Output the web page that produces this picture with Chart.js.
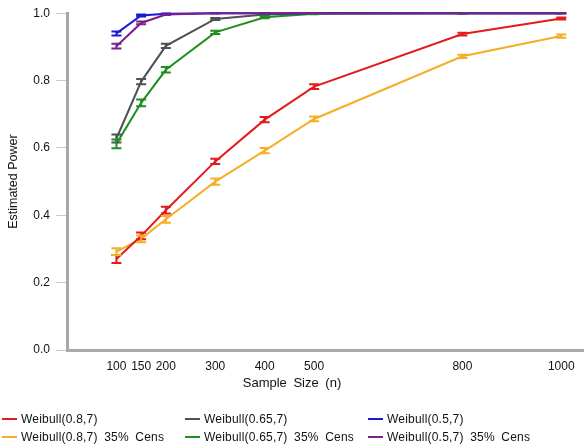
<!DOCTYPE html>
<html>
<head>
<meta charset="utf-8">
<script src="https://cdn.jsdelivr.net/npm/chart.js@4/dist/chart.umd.min.js"></script>
<style>
  body { margin: 0; background: #fff; font-family: "Liberation Sans", Arial, sans-serif; }
  #wrap { position: relative; width: 584px; height: 448px; }
  #xtitle { position: absolute; top: 375px; left: 0; width: 584px; text-align: center;
            font-size: 13px; color: #111; word-spacing: 3px; }
  #legend { position: absolute; top: 411px; left: 2px; width: 582px;
            display: grid; grid-template-columns: 183px 183px 216px; row-gap: 3px;
            font-size: 12px; color: #111; word-spacing: 3px; letter-spacing: 0.2px; }
  .item { display: flex; align-items: center; white-space: nowrap; height: 15px; }
  .swatch { width: 15px; height: 2px; margin-right: 4px; }
</style>
</head>
<body>
<div id="wrap">
  <canvas id="chart" width="584" height="448"></canvas>
  <div id="xtitle">Sample Size (n)</div>
  <div id="legend"></div>
</div>
<script>
// sample sizes on the x axis
const sampleSizes = [100, 150, 200, 300, 400, 500, 800, 1000];
const xTicks = [100, 150, 200, 300, 400, 500, 800, 1000];
const yTicks = [0, 0.2, 0.4, 0.6, 0.8, 1.0];

// estimated power per series
const w08 = [0.270, 0.339, 0.415, 0.560, 0.684, 0.782, 0.938, 0.984];
const w08Cens = [0.292, 0.330, 0.388, 0.500, 0.592, 0.686, 0.872, 0.932];
const w065 = [0.628, 0.797, 0.903, 0.983, 0.996, 1.0, 1.0, 1.0];
const w065Cens = [0.612, 0.734, 0.832, 0.943, 0.988, 0.998, 1.0, 1.0];
const w05 = [0.940, 0.993, 0.998, 1.0, 1.0, 1.0, 1.0, 1.0];
const w05Cens = [0.902, 0.971, 0.996, 1.0, 1.0, 1.0, 1.0, 1.0];

// half widths of the error bars
const w08Err = [0.012, 0.010, 0.010, 0.008, 0.008, 0.007, 0.004, 0.003];
const w08CensErr = [0.010, 0.010, 0.010, 0.009, 0.008, 0.007, 0.005, 0.005];
const w065Err = [0.012, 0.008, 0.006, 0.003, 0.001, 0, 0, 0];
const w065CensErr = [0.013, 0.010, 0.008, 0.005, 0.003, 0.001, 0, 0];
const w05Err = [0.006, 0.003, 0.001, 0, 0, 0, 0, 0];
const w05CensErr = [0.007, 0.004, 0.001, 0, 0, 0, 0, 0];

const seriesNames = [
    'Weibull(0.8,7)', 'Weibull(0.65,7)', 'Weibull(0.5,7)',
    'Weibull(0.8,7)  35%  Cens', 'Weibull(0.65,7)  35%  Cens', 'Weibull(0.5,7)  35%  Cens'
];
const seriesValues = [w08, w065, w05, w08Cens, w065Cens, w05Cens];
const seriesErrors = [w08Err, w065Err, w05Err, w08CensErr, w065CensErr, w05CensErr];
const seriesColors = ['#e41a1c', '#4b5452', '#1a1ad6', '#f5ae25', '#1f8f1f', '#7d1f8c'];
const seriesOrder = [5, 3, 2, 6, 4, 1];

const datasets = seriesNames.map((name, i) => ({
    label: name,
    data: sampleSizes.map((n, j) => ({ x: n, y: seriesValues[i][j] })),
    errors: seriesErrors[i],
    borderColor: seriesColors[i],
    backgroundColor: seriesColors[i],
    borderWidth: 2,
    pointRadius: 0,
    tension: 0,
    order: seriesOrder[i],
    clip: 4
}));

// draws the error bars with caps from the scales
const errorBars = {
    id: 'errorBars',
    afterDatasetsDraw(chart) {
        const ctx = chart.ctx;
        const xs = chart.scales.x;
        const ys = chart.scales.y;
        chart.data.datasets.forEach((ds) => {
            ctx.save();
            ctx.strokeStyle = ds.borderColor;
            ctx.lineWidth = 2;
            ds.data.forEach((p, j) => {
                const e = ds.errors[j];
                const x = xs.getPixelForValue(p.x);
                const top = ys.getPixelForValue(Math.min(p.y + e, 1.0));
                const bot = ys.getPixelForValue(p.y - e);
                ctx.beginPath();
                ctx.moveTo(x, top);
                ctx.lineTo(x, bot);
                ctx.moveTo(x - 5, top);
                ctx.lineTo(x + 5, top);
                ctx.moveTo(x - 5, bot);
                ctx.lineTo(x + 5, bot);
                ctx.stroke();
            });
            ctx.restore();
        });
    }
};

new Chart(document.getElementById('chart'), {
    type: 'line',
    data: { datasets: datasets },
    options: {
        responsive: false,
        animation: false,
        layout: { padding: { top: 10, right: 0, left: 0, bottom: 0 } },
        plugins: { legend: { display: false }, tooltip: { enabled: false } },
        scales: {
            x: {
                type: 'linear',
                min: 0,
                max: 1046,
                afterBuildTicks: (axis) => { axis.ticks = xTicks.map(v => ({ value: v })); },
                afterFit: (axis) => { axis.height = 98; },
                grid: { display: false, drawTicks: false, tickLength: 0 },
                border: { display: true, color: '#a8a8a8', width: 3 },
                ticks: {
                    padding: 9,
                    maxRotation: 0,
                    autoSkip: false,
                    color: '#111',
                    font: { family: 'Liberation Sans', size: 12 },
                    callback: (v) => String(v)
                }
            },
            y: {
                min: 0,
                max: 1,
                afterBuildTicks: (axis) => { axis.ticks = yTicks.map(v => ({ value: v })); },
                afterFit: (axis) => { axis.width = 67; },
                grid: { drawOnChartArea: false, color: '#c8c8c8', tickLength: 11, lineWidth: 1 },
                border: { display: true, color: '#a8a8a8', width: 3 },
                ticks: {
                    padding: 6,
                    color: '#111',
                    font: { family: 'Liberation Sans', size: 12 },
                    callback: (v) => Number(v).toFixed(1)
                },
                title: {
                    display: true,
                    text: 'Estimated Power',
                    color: '#111',
                    padding: { top: 6, bottom: 0 },
                    font: { family: 'Liberation Sans', size: 12.5 }
                }
            }
        }
    },
    plugins: [errorBars]
});

// legend in three columns below the chart
const legend = document.getElementById('legend');
seriesNames.forEach((name, i) => {
    const item = document.createElement('div');
    item.className = 'item';
    const sw = document.createElement('span');
    sw.className = 'swatch';
    sw.style.background = seriesColors[i];
    const label = document.createElement('span');
    label.textContent = name;
    item.appendChild(sw);
    item.appendChild(label);
    legend.appendChild(item);
});
</script>
</body>
</html>
